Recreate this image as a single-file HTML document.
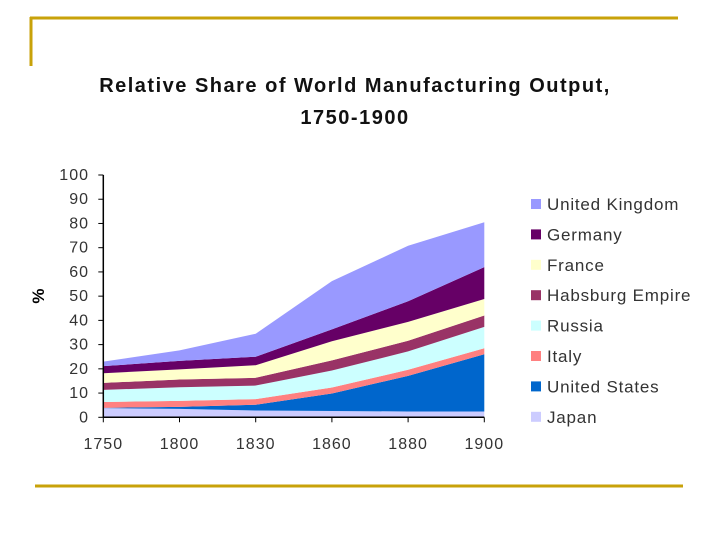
<!DOCTYPE html>
<html><head><meta charset="utf-8"><style>
body{margin:0;background:#fff;}
svg{display:block;font-family:"Liberation Sans",Arial,sans-serif;}
</style></head><body>
<svg id="c" width="720" height="540">
<line x1="30" y1="18" x2="678" y2="18" stroke="#c8a20a" stroke-width="3"/>
<line x1="31" y1="17" x2="31" y2="66" stroke="#c8a20a" stroke-width="3"/>
<line x1="35" y1="486" x2="683" y2="486" stroke="#c8a20a" stroke-width="3"/>
<text x="355" y="92" text-anchor="middle" font-size="20" letter-spacing="1.5" font-weight="bold" fill="#111">Relative Share of World Manufacturing Output,</text>
<text x="355" y="124" text-anchor="middle" font-size="20" letter-spacing="1.5" font-weight="bold" fill="#111">1750-1900</text>
<text x="44" y="296" text-anchor="middle" font-size="17" font-weight="bold" transform="rotate(-90 44 296)">%</text>
<g id="areas"></g><g id="axes"></g><g id="legend"></g>
</svg>
<script>
const years=["1750","1800","1830","1860","1880","1900"];
const seriesNames=["Japan","United States","Italy","Russia","Habsburg Empire","France","Germany","United Kingdom"];
const japan=[3.8,3.5,2.8,2.6,2.4,2.4];
const unitedStates=[0.1,0.8,2.4,7.2,14.7,23.6];
const italy=[2.4,2.5,2.3,2.5,2.5,2.5];
const russia=[5.0,5.6,5.6,7.0,7.6,8.8];
const habsburg=[2.9,3.2,3.2,4.2,4.4,4.7];
const france=[4.0,4.2,5.2,7.9,7.8,6.8];
const germany=[2.9,3.5,3.5,4.9,8.5,13.2];
const unitedKingdom=[1.9,4.3,9.5,19.9,22.9,18.5];
const yTicks=[0,10,20,30,40,50,60,70,80,90,100];
const colors=["#ccccff","#0066cc","#ff8080","#ccffff","#993366","#ffffcc","#660066","#9999ff"];
const series=[japan,unitedStates,italy,russia,habsburg,france,germany,unitedKingdom];
const NS="http://www.w3.org/2000/svg";
const x0=103.3,x1=484.3,yb=417.3,yt=175;
function xs(i){return x0+(x1-x0)*i/(years.length-1);}
function ys(v){return yb-(yb-yt)*v/100;}
const areas=document.getElementById('areas');
let base=years.map(()=>0);
series.forEach((s,k)=>{
  const top=base.map((b,i)=>b+s[i]);
  let pts=top.map((v,i)=>xs(i)+","+ys(v));
  for(let i=years.length-1;i>=0;i--)pts.push(xs(i)+","+ys(base[i]));
  const p=document.createElementNS(NS,'polygon');
  p.setAttribute('points',pts.join(' '));
  p.setAttribute('fill',colors[k]);
  
  
  areas.appendChild(p);
  base=top;
});
const ax=document.getElementById('axes');
function el(t,a){const e=document.createElementNS(NS,t);for(const k in a)e.setAttribute(k,a[k]);return e;}
let l=el('line',{x1:x0,y1:yt,x2:x0,y2:yb,stroke:'#000','stroke-width':1.5});


ax.appendChild(l);
l=el('line',{x1:x0,y1:yb,x2:x1,y2:yb,stroke:'#000','stroke-width':1.5});


ax.appendChild(l);
yTicks.forEach(v=>{
  const t=el('line',{x1:x0-5,y1:ys(v),x2:x0,y2:ys(v),stroke:'#000'});
  
  
  ax.appendChild(t);
  const tx=el('text',{x:89,y:ys(v)+5,'text-anchor':'end','font-size':16,'letter-spacing':1,fill:'#333'});
  tx.textContent=v;
  
  
  ax.appendChild(tx);
});
years.forEach((y,i)=>{
  const t=el('line',{x1:xs(i),y1:yb,x2:xs(i),y2:yb+5,stroke:'#000'});
  
  
  ax.appendChild(t);
  const tx=el('text',{x:xs(i),y:449,'text-anchor':'middle','font-size':16,'letter-spacing':1,fill:'#333'});
  tx.textContent=y;
  
  
  ax.appendChild(tx);
});
const lg=document.getElementById('legend');
for(let k=series.length-1,r=0;k>=0;k--,r++){
  const y=204+r*30.4;
  const g=el('g',{});
  
  
  g.appendChild(el('rect',{x:531,y:y-5,width:10,height:10,fill:colors[k]}));
  const tx=el('text',{x:547,y:y+6,'font-size':17,'letter-spacing':0.8,fill:'#333'});
  tx.textContent=seriesNames[k];
  g.appendChild(tx);
  lg.appendChild(g);
}
</script>
</body></html>
